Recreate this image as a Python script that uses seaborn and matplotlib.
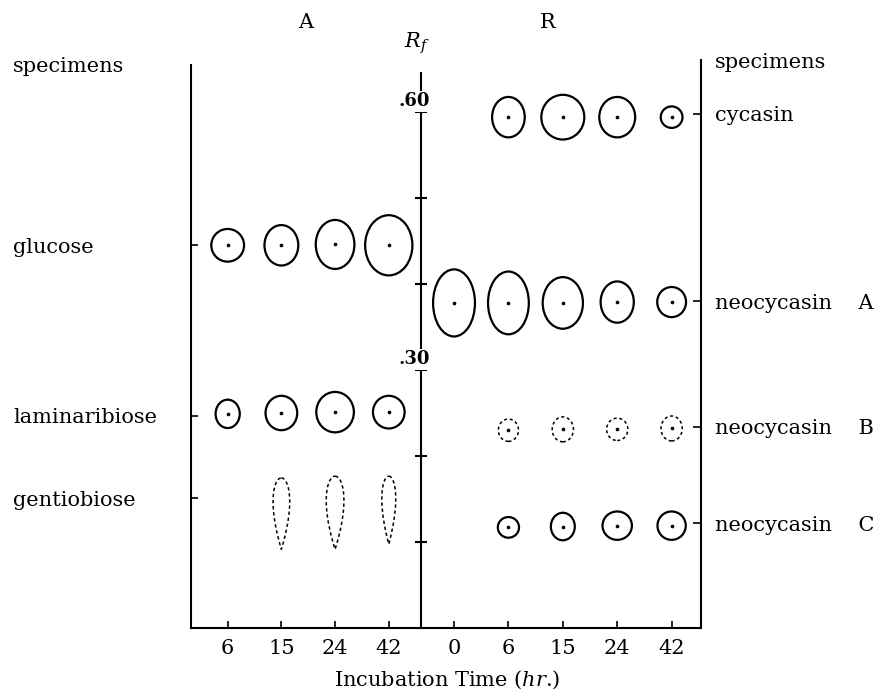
import numpy as np
import pandas as pd
import matplotlib
matplotlib.use("Agg")
import matplotlib.pyplot as plt
import matplotlib.transforms as mtransforms
from matplotlib.patches import Ellipse
import seaborn as sns

# ---------------- data ----------------
times_A = ["6", "15", "24", "42"]
times_R = ["0", "6", "15", "24", "42"]

spec_A = ["glucose", "laminaribiose", "gentiobiose"]
spec_A_rf = [0.445, 0.247, 0.151]
spec_R = ["cycasin", "neocycasin    A", "neocycasin    B", "neocycasin    C"]
spec_R_rf = [0.598, 0.380, 0.234, 0.122]

rf_ticks = [0.1, 0.2, 0.3, 0.4, 0.5, 0.6]
rf_labels = ["", "", ".30", "", "", ".60"]

# spots: lane index, Rf centre, width (lane units), height (Rf units)
glucose_lane = [0, 1, 2, 3]
glucose_rf = [0.445, 0.445, 0.446, 0.445]
glucose_w = [0.61, 0.63, 0.72, 0.88]
glucose_h = [0.038, 0.047, 0.057, 0.070]

lamina_lane = [0, 1, 2, 3]
lamina_rf = [0.249, 0.250, 0.251, 0.251]
lamina_w = [0.45, 0.59, 0.70, 0.59]
lamina_h = [0.033, 0.040, 0.047, 0.038]

gentio_lane = [1, 2, 3]
gentio_rf = [0.133, 0.134, 0.137]
gentio_w = [0.31, 0.33, 0.26]
gentio_h = [0.083, 0.085, 0.079]

cycasin_lane = [1, 2, 3, 4]
cycasin_rf = [0.594, 0.594, 0.594, 0.594]
cycasin_w = [0.60, 0.79, 0.66, 0.40]
cycasin_h = [0.047, 0.052, 0.047, 0.025]

neoA_lane = [0, 1, 2, 3, 4]
neoA_rf = [0.378, 0.378, 0.378, 0.379, 0.379]
neoA_w = [0.77, 0.75, 0.74, 0.61, 0.53]
neoA_h = [0.078, 0.073, 0.060, 0.048, 0.035]

neoB_lane = [1, 2, 3, 4]
neoB_rf = [0.230, 0.231, 0.231, 0.232]
neoB_w = [0.37, 0.39, 0.39, 0.39]
neoB_h = [0.026, 0.029, 0.026, 0.029]

neoC_lane = [1, 2, 3, 4]
neoC_rf = [0.117, 0.118, 0.119, 0.119]
neoC_w = [0.39, 0.44, 0.54, 0.52]
neoC_h = [0.024, 0.032, 0.033, 0.033]

# ---------------- style ----------------
sns.set_style("ticks", {"axes.edgecolor": "black", "text.color": "black",
                        "xtick.color": "black", "ytick.color": "black",
                        "axes.labelcolor": "black"})
plt.rcParams["font.family"] = ["DejaVu Serif"]
plt.rcParams["mathtext.fontset"] = "dejavuserif"
FS = 15

W, H = 883, 693
fig = plt.figure(figsize=(W / 100, H / 100), dpi=100)

def fx(px):
    return px / W

def fy(py):
    return 1 - py / H

bottom_px, top_px = 628, 60.4
ax1 = fig.add_axes([fx(191), fy(bottom_px), fx(421) - fx(191), (bottom_px - top_px) / H])
ax2 = fig.add_axes([fx(421), fy(bottom_px), fx(701) - fx(421), (bottom_px - top_px) / H])
for ax in (ax1, ax2):
    ax.set_facecolor("none")
    ax.set_ylim(0, 0.66)

ax1.set_xlim(-0.683, 3.60)
ax2.set_xlim(-0.607, 4.54)

LW = 1.6
# ---------------- spots ----------------
def ellipses(ax, lanes, rfs, ws, hs, dashed=False):
    for x, y, w, h in zip(lanes, rfs, ws, hs):
        e = Ellipse((x, y), w, h, fill=False, edgecolor="black",
                    lw=1.1 if dashed else LW,
                    linestyle=(0, (2.0, 1.8)) if dashed else "-")
        ax.add_patch(e)

def teardrops(ax, lanes, rfs, ws, hs):
    t = np.linspace(0, 2 * np.pi, 300)
    f = np.sin(t) * np.sqrt((1 + np.cos(t)) / 2)
    f = f / np.abs(f).max()
    for x, y, w, h in zip(lanes, rfs, ws, hs):
        ax.plot(x + w / 2 * f, y + h / 2 * np.cos(t), color="black", lw=1.1,
                linestyle=(0, (2.2, 1.8)))

ellipses(ax1, glucose_lane, glucose_rf, glucose_w, glucose_h)
ellipses(ax1, lamina_lane, lamina_rf, lamina_w, lamina_h)
teardrops(ax1, gentio_lane, gentio_rf, gentio_w, gentio_h)
ellipses(ax2, cycasin_lane, cycasin_rf, cycasin_w, cycasin_h)
ellipses(ax2, neoA_lane, neoA_rf, neoA_w, neoA_h)
ellipses(ax2, neoB_lane, neoB_rf, neoB_w, neoB_h, dashed=True)
ellipses(ax2, neoC_lane, neoC_rf, neoC_w, neoC_h)

dots_A = pd.DataFrame({"lane": glucose_lane + lamina_lane,
                       "rf": glucose_rf + lamina_rf})
dots_R = pd.DataFrame({"lane": cycasin_lane + neoA_lane + neoB_lane + neoC_lane,
                       "rf": cycasin_rf + neoA_rf + neoB_rf + neoC_rf})
sns.scatterplot(data=dots_A, x="lane", y="rf", ax=ax1, color="black", s=7, linewidth=0)
sns.scatterplot(data=dots_R, x="lane", y="rf", ax=ax2, color="black", s=7, linewidth=0)

# ---------------- axes / spines ----------------
ax1.spines["top"].set_visible(False)
ax2.spines["top"].set_visible(False)
ax2.spines["left"].set_visible(False)
for sp in ("left", "right", "bottom"):
    ax1.spines[sp].set_linewidth(1.5)
for sp in ("right", "bottom"):
    ax2.spines[sp].set_linewidth(1.5)
ax1.spines["left"].set_bounds(0, 0.655)
ax1.spines["right"].set_bounds(0, 0.645)
ax2.spines["right"].set_bounds(0, 0.66)

ax1.set_xlabel("")
ax2.set_xlabel("")
ax1.set_ylabel("")
ax2.set_ylabel("")

ax1.set_xticks(range(len(times_A)), times_A)
ax2.set_xticks(range(len(times_R)), times_R)
for ax in (ax1, ax2):
    ax.tick_params(axis="x", direction="in", length=5, width=1.2, pad=8, labelsize=FS)

# left specimens
ax1.set_yticks(spec_A_rf, spec_A)
ax1.tick_params(axis="y", left=True, right=False, direction="in", length=5, width=1.2,
                pad=(191 - 13) * 0.72, labelsize=FS)
for lbl in ax1.get_yticklabels():
    lbl.set_horizontalalignment("left")

# right specimens
ax2.yaxis.tick_right()
ax2.set_yticks(spec_R_rf, spec_R)
ax2.tick_params(axis="y", left=False, right=True, direction="in", length=6, width=1.2,
                pad=(715 - 701) * 0.72, labelsize=FS)

# middle Rf axis
sec = ax1.secondary_yaxis("right")
sec.set_yticks(rf_ticks)
sec.set_yticklabels([""] * len(rf_ticks))
sec.tick_params(direction="inout", length=9, width=1.5)
for sp in sec.spines.values():
    sp.set_visible(False)

blend = mtransforms.blended_transform_factory(ax1.transAxes, ax1.transData)
for v, lab in zip(rf_ticks, rf_labels):
    if lab:
        ax1.text(0.97, v + 0.0125, lab, transform=blend, ha="center", va="center",
                 fontsize=13, fontweight="bold",
                 bbox=dict(facecolor="white", edgecolor="none", pad=1.0), zorder=5)

# ---------------- texts ----------------
fig.text(fx(306), fy(22), "A", ha="center", va="center", fontsize=FS)
fig.text(fx(548), fy(22), "R", ha="center", va="center", fontsize=FS)
fig.text(fx(417), fy(43), r"$R_f$", ha="center", va="center", fontsize=FS)
fig.text(fx(13), fy(67), "specimens", ha="left", va="center", fontsize=FS)
fig.text(fx(715), fy(62), "specimens", ha="left", va="center", fontsize=FS)
fig.text(fx(447), fy(680), r"Incubation Time ($\mathit{hr}$.)", ha="center", va="center",
         fontsize=FS)

fig.savefig("out.png", dpi=100)
